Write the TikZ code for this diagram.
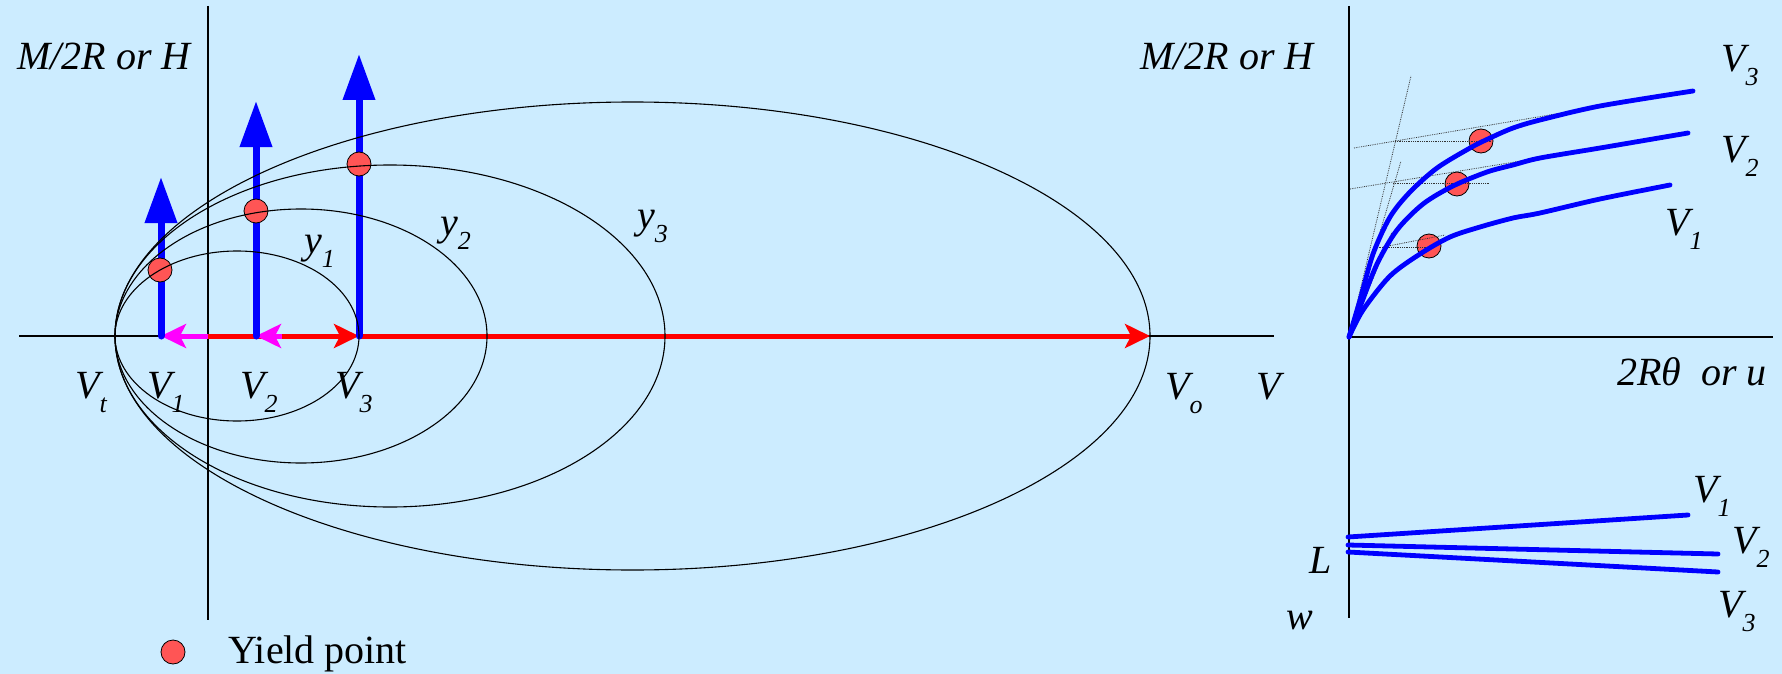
\documentclass[tikz,border=0pt]{standalone}
\usepackage{fontspec}
\setmainfont{Liberation Serif}
\newfontfamily\tnr{Liberation Serif}
\usetikzlibrary{arrows.meta}
\definecolor{bg}{RGB}{204,236,255}
\definecolor{dotred}{RGB}{255,85,85}
\definecolor{mag}{RGB}{255,0,255}
\definecolor{pblue}{RGB}{0,0,255}
\definecolor{pred}{RGB}{255,0,0}
\newcommand{\lbl}[2]{#1\raisebox{-14pt}{\fontsize{26}{26}\selectfont #2}}
\begin{document}
\begin{tikzpicture}[x=1pt,y=-1pt,
  txt/.style={inner sep=0pt, anchor=base west, font=\tnr\fontsize{40}{48}\selectfont\itshape},
  axisline/.style={line width=2.4pt, black},
  ell/.style={line width=1.1pt, black},
  barrow/.style={line width=7pt, pblue, line cap=round, -{Triangle[length=46pt,width=31pt]}},
  rarrow/.style={line width=5pt, pred, -{Stealth[length=25pt,width=24pt,inset=6pt]}},
  marrow/.style={line width=5pt, mag, -{Stealth[length=25pt,width=24pt,inset=6pt]}},
  ydot/.style={circle, draw=black, line width=0.8pt, fill=dotred, minimum size=24pt, inner sep=0pt},
  curve/.style={line width=4.8pt, pblue, line cap=round, line join=round},
  guide/.style={line width=0.8pt, black!80, densely dotted},
]
\fill[bg] (0,0) rectangle (1782,674);
\useasboundingbox (0,0) rectangle (1782,674);

% ---------- left panel ----------
\coordinate (hL) at (19,336);
\coordinate (hR) at (1274,336);
\coordinate (vT) at (208,6);
\coordinate (vB) at (208,620);
\draw[axisline] (hL) -- (hR);
\draw[axisline] (vT) -- (vB);

\coordinate (a1) at (161,336);
\coordinate (a2) at (256,336);
\coordinate (a3) at (359,336);
\coordinate (ao) at (1150,336);
\coordinate (rs) at (208,336);
\coordinate (m2) at (281.5,336);
\coordinate (t1) at (161,177);
\coordinate (t2) at (256,101);
\coordinate (t3) at (359,54);

\draw[marrow] (a2) -- (a1);
\draw[rarrow] (rs) -- (a3);
\draw[rarrow] (a3) -- (ao);
\draw[marrow] (m2) -- (a2);

\draw[barrow] (a1) -- (t1);
\draw[barrow] (a2) -- (t2);
\draw[barrow] (a3) -- (t3);

\node[ydot] (d1) at (160,270) {};
\node[ydot] (d2) at (256,211) {};
\node[ydot] (d3) at (359,164) {};

\draw[ell] (237,336) ellipse [x radius=122, y radius=85];
\draw[ell] (301,336) ellipse [x radius=186, y radius=127];
\draw[ell] (390,336) ellipse [x radius=275, y radius=171];
\draw[ell] (632.5,336) ellipse [x radius=517.5, y radius=234];

\node[txt] (lm) at (17,70) {M/2R or H};
\node[txt] (lvt) at (75,398) {\lbl{V}{t}};
\node[txt] (lv1) at (147,398) {\lbl{V}{1}};
\node[txt] (lv2) at (240,398) {\lbl{V}{2}};
\node[txt] (lv3) at (335,398) {\lbl{V}{3}};
\node[txt] (lvo) at (1165,399) {\lbl{V}{o}};
\node[txt] (lv) at (1256,399) {V};
\node[txt] (ly1) at (304,253) {\lbl{y}{1}};
\node[txt] (ly2) at (440,235) {\lbl{y}{2}};
\node[txt] (ly3) at (637,228) {\lbl{y}{3}};

\node[ydot] (yd) at (173,652) {};
\node[txt, font=\tnr\fontsize{40}{48}\selectfont\upshape] (yl) at (228,663) {Yield point};

% ---------- right panel ----------
\coordinate (o) at (1349,337);
\coordinate (rT) at (1349,6);
\coordinate (rB) at (1349,618);
\coordinate (rR) at (1773,337);
\draw[axisline] (rT) -- (rB);
\draw[axisline] (o) -- (rR);

\node[ydot] (r1) at (1429,246) {};
\node[ydot] (r2) at (1457,184) {};
\node[ydot] (r3) at (1481,141) {};

\coordinate (g1) at (1411,76);
\coordinate (g2) at (1401,161);
\coordinate (g3) at (1392,232);
\draw[guide] (o) -- (g1);
\draw[guide] (o) -- (g2);
\draw[guide] (o) -- (g3);
\draw[guide] (1354,148) -- (1603,106);
\draw[guide] (1395,141) -- (1492,141);
\draw[guide] (1350,189) -- (1533,159);
\draw[guide] (1393,183) -- (1490,183);
\draw[guide] (1383,247) -- (1445,235);
\draw[guide] (1375,247) -- (1430,247);

\draw[curve] plot[smooth, tension=0.5] coordinates {(1349,337) (1363,310) (1390,276) (1420,254) (1450,237) (1480,227) (1513,218) (1540,213) (1600,199) (1670,185)};
\draw[curve] plot[smooth, tension=0.5] coordinates {(1349,337) (1360,307) (1377,264) (1397,230) (1423,204) (1453,186) (1487,172) (1513,165) (1540,158) (1600,148) (1688,133)};
\draw[curve] plot[smooth, tension=0.5] coordinates {(1349,337) (1360,300) (1373,254) (1390,217) (1410,192) (1437,168) (1470,148) (1490,138) (1513,128) (1540,120) (1600,106) (1693,91)};

\node[txt] (rm) at (1140,70) {M/2R or H};
\node[txt] (rx) at (1617,385) {2Rθ\hspace{10pt} or u};
\node[txt] (rv3) at (1721,72) {\lbl{V}{3}};
\node[txt] (rv2) at (1721,162) {\lbl{V}{2}};
\node[txt] (rv1) at (1665,235) {\lbl{V}{1}};

% ---------- bottom right ----------
\coordinate (b1s) at (1348,537);
\coordinate (b1e) at (1688,515);
\coordinate (b2s) at (1348,545);
\coordinate (b2e) at (1718,554);
\coordinate (b3s) at (1348,552);
\coordinate (b3e) at (1718,572);
\draw[curve] (b1s) -- (b1e);
\draw[curve] (b2s) -- (b2e);
\draw[curve] (b3s) -- (b3e);

\node[txt] (bv1) at (1693,502) {\lbl{V}{1}};
\node[txt] (bv2) at (1732,553) {\lbl{V}{2}};
\node[txt] (bv3) at (1718,617) {\lbl{V}{3}};
\node[txt] (ll) at (1309,573) {L};
\node[txt] (lw) at (1286,629) {w};
\end{tikzpicture}
\end{document}
